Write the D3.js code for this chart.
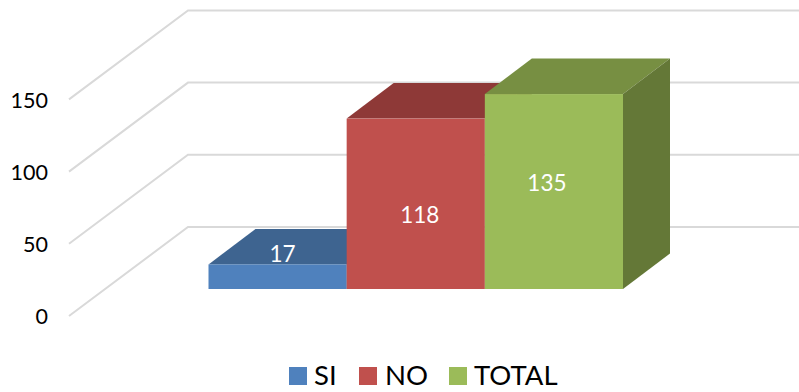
<!DOCTYPE html>
<html>
<head>
<meta charset="utf-8">
<script src="https://cdn.jsdelivr.net/npm/d3@7"></script>
<style>
  html, body { margin: 0; background: #fff; }
  svg { display: block; }
  text { font-family: Lato, "Open Sans", sans-serif; }
</style>
</head>
<body>
<svg width="799" height="392"></svg>
<script>
const categories = ['SI', 'NO', 'TOTAL'];
const values = [17, 118, 135];
const yTicks = [0, 50, 100, 150];
const frontColors = ['#4f81bd', '#c0504d', '#9bbb59'];
const topColors = ['#3e6490', '#8e3937', '#778f42'];
const sideColors = ['#324f73', '#73302e', '#647837'];

const svg = d3.select('svg');

// 3d offset between the front of the bars and the back wall
const depthX = 47, depthY = -35.5;
const floorFront = 289; // y of value 0 at the front of the bars

const x = d3.scaleBand().domain(categories).range([208.5, 623]).padding(0);
const y = d3.scaleLinear().domain([0, 150]).range([floorFront, floorFront - 216.6]);

// the walls sit 27px below/left of the bar fronts, back wall is 89px up
const wallLeft = 69, wallBack = 188, wallRise = 89, wallDrop = 27;
const wallY = (v) => y(v) + wallDrop;

// gridlines
const grid = svg.append('g')
  .attr('fill', 'none')
  .attr('stroke', '#d9d9d9')
  .attr('stroke-width', 2);

yTicks.forEach((t) => {
  grid.append('polyline')
    .attr('points', [
      [wallLeft, wallY(t)],
      [wallBack, wallY(t) - wallRise],
      [799, wallY(t) - wallRise]
    ].join(' '));
});

// axis labels
const axis = d3.axisLeft(d3.scaleLinear().domain([0, 150]).range([wallY(0), wallY(150)]))
  .tickValues(yTicks)
  .tickSize(0)
  .tickPadding(0);

svg.append('g')
  .attr('transform', `translate(48,1)`)
  .call(axis)
  .call((g) => g.select('.domain').remove())
  .call((g) => g.selectAll('text')
    .attr('font-size', 21.5)
    .attr('fill', '#000'));

// bars, left to right so the later ones cover the earlier top faces
const bars = svg.selectAll('g.bar')
  .data(categories)
  .join('g')
  .attr('class', 'bar');

bars.each(function (c, i) {
  const g = d3.select(this);
  const x0 = x(c), x1 = x0 + x.bandwidth();
  const top = y(values[i]);

  g.append('polygon')
    .attr('fill', topColors[i])
    .attr('points', [[x0, top], [x0 + depthX, top + depthY], [x1 + depthX, top + depthY], [x1, top]].join(' '));

  g.append('polygon')
    .attr('fill', sideColors[i])
    .attr('points', [[x1, top], [x1 + depthX, top + depthY], [x1 + depthX, floorFront + depthY], [x1, floorFront]].join(' '));

  g.append('rect')
    .attr('x', x0)
    .attr('y', top)
    .attr('width', x.bandwidth())
    .attr('height', floorFront - top)
    .attr('fill', frontColors[i]);
});

// data labels, Excel places them by its own 3d rule
const labelNudgeX = [5, 4, -7];
const labelNudgeY = [-23, 11, -8];

svg.selectAll('text.value')
  .data(values)
  .join('text')
  .attr('class', 'value')
  .attr('x', (d, i) => x(categories[i]) + x.bandwidth() / 2 + labelNudgeX[i])
  .attr('y', (d, i) => (y(d) + floorFront) / 2 + labelNudgeY[i])
  .attr('dy', '0.35em')
  .attr('text-anchor', 'middle')
  .attr('font-size', 22.5)
  .attr('fill', '#fff')
  .text((d) => d);

// legend
const legendX = [289, 359, 449];
const legend = svg.selectAll('g.legend')
  .data(categories)
  .join('g')
  .attr('class', 'legend')
  .attr('transform', (d, i) => `translate(${legendX[i]},367)`);

legend.append('rect')
  .attr('width', 18)
  .attr('height', 18)
  .attr('fill', (d, i) => frontColors[i]);

legend.append('text')
  .attr('x', (d, i) => (i === 1 ? 26 : 25))
  .attr('y', 18)
  .attr('font-size', 27.5)
  .attr('fill', '#000')
  .text((d) => d);
</script>
</body>
</html>
